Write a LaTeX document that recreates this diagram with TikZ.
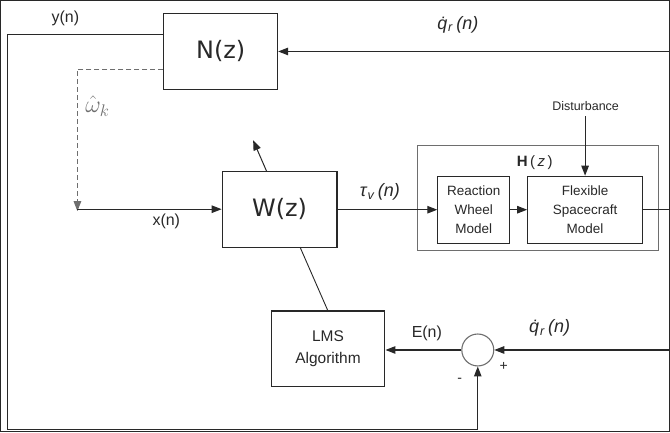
\RequirePackage{fix-cm}
\documentclass[tikz,border=0pt]{standalone}
\usepackage{fontspec}
\setmainfont{Liberation Sans}
\newfontfamily\dejavu{DejaVu Sans}
\usetikzlibrary{arrows.meta}
\definecolor{ln}{RGB}{40,40,40}
\definecolor{lg}{RGB}{110,110,110}
\begin{document}
\begin{tikzpicture}[x=1pt,y=-1pt,
  line width=1.1pt,
  every path/.style={draw=ln},
  arr/.style={-{Triangle[length=10pt,width=7.5pt]}},
  blk/.style={draw=ln, line width=1.1pt, inner sep=0pt, align=center, text=ln},
  lbl/.style={inner sep=0pt, text=ln},
  s16/.style={font=\fontsize{16}{19}\selectfont},
  s13/.style={font=\fontsize{13.5}{19.5}\selectfont},
  s18/.style={font=\fontsize{18}{21}\selectfont},
]
\useasboundingbox (0,0) rectangle (670,432);
% blocks
\node[blk, minimum width=114pt, minimum height=76pt, font=\dejavu\fontsize{24}{28}\selectfont] (N) at (220.5,51) {N(z)};
\node[blk, minimum width=115pt, minimum height=76pt, font=\dejavu\fontsize{24}{28}\selectfont] (W) at (279.5,209) {W(z)};
\node[blk, minimum width=114pt, minimum height=76pt, font=\fontsize{15.5}{22}\selectfont] (L) at (328,349) {LMS\\Algorithm};
\node[draw=lg, line width=1pt, minimum width=241pt, minimum height=105pt, inner sep=0pt] (H) at (538.5,198) {};
\node[blk, minimum width=72pt, minimum height=67pt, s13] (RW) at (474,209.5) {Reaction\\Wheel\\Model};
\node[blk, minimum width=115pt, minimum height=67pt, s13] (FS) at (585.5,209.5) {Flexible\\Spacecraft\\Model};
\node[draw=lg, line width=1.1pt, circle, minimum size=32pt, inner sep=0pt] (S) at (478,350) {};
% coordinates
\coordinate (yl) at (7,34);
\coordinate (bl) at (7,430);
\coordinate (br) at (478,430);
\coordinate (dk) at (77,69);
\coordinate (dd) at (77,209);
\coordinate (tr) at (670,51);
\coordinate (fr) at (670,209.5);
\coordinate (sr) at (670,350);
\coordinate (wa) at (253,140);
\coordinate (wb) at (266.5,171);
\coordinate (wc) at (300,247);
\coordinate (lt) at (328,311);
\coordinate (dt) at (585.5,116);
% connectors
\draw (N.west |- yl) -- (yl) -- (bl) -- (br) [arr] -- (S.south);
\draw[draw=lg, dash pattern=on 5pt off 3pt, arr] (N.west |- dk) -- (dk) -- ([yshift=-2pt]dd);
\draw[arr] (dd) -- (W.west |- dd);
\draw[arr] (tr) -- (N.east |- tr);
\draw[arr] (W.east |- RW.west) -- (RW.west);
\draw[arr] (RW.east) -- (FS.west);
\draw (FS.east) -- (fr);
\draw[arr] (dt) -- (FS.north);
\draw[arr, line width=1pt] (wb) -- (wa);
\draw[line width=0.9pt] (wc) -- (lt);
\draw[arr] (sr) -- (S.east);
\draw[arr] (S.west) -- (L.east |- S.west);
% labels
\node[lbl, s16] (ly) at (65,18) {y(n)};
\node[lbl, text=lg, font=\fontsize{24}{26}\selectfont] (lw) at (97,106) {$\hat{\omega}_k$};
\node[lbl, s16] (lx) at (166,221) {x(n)};
\node[lbl, s18] (lt2) at (380,192) {\textit{τ}\textsubscript{\textit{v}}\,\textit{(n)}};
\node[lbl, s18] (lq1) at (458,24) {\textit{\.{q}}\textsubscript{\textit{r}}\,\textit{(n)}};
\node[lbl, s18] (lq2) at (550,328) {\textit{\.{q}}\textsubscript{\textit{r}}\,\textit{(n)}};
\node[lbl, font=\fontsize{12.5}{15}\selectfont] (ld) at (586,106) {Disturbance};
\node[lbl, font=\fontsize{15}{18}\selectfont] (lh) at (535,162) {\textbf{H}\,(\,\textit{z}\,)};
\node[lbl, s16] (le) at (427,333) {E(n)};
\node[lbl, font=\fontsize{14}{16}\selectfont] (lp) at (504,367) {+};
\node[lbl, font=\fontsize{14}{16}\selectfont] (lm) at (460,380) {-};
\end{tikzpicture}
\end{document}
